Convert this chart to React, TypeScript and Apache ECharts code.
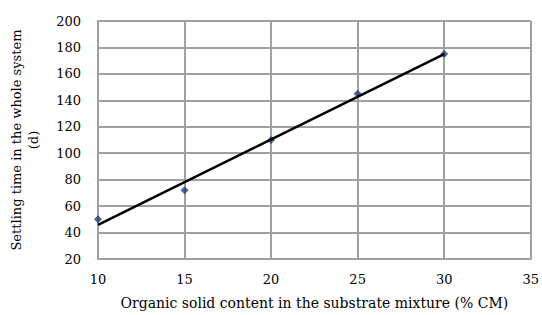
import React, { useEffect, useRef } from "react";
import * as echarts from "echarts";

const xValues = [10, 15, 20, 25, 30];
const settlingDays = [50, 72, 110, 145, 175];
const xTicks = { min: 10, max: 35, interval: 5 };
const yTicks = { min: 20, max: 200, interval: 20 };
const xTitle = "Organic solid content in the substrate mixture (% CM)";
const yTitle = "Settling time in the whole system\n(d)";

function linearFit(xs: number[], ys: number[]) {
  const n = xs.length;
  const mx = xs.reduce((a, b) => a + b, 0) / n;
  const my = ys.reduce((a, b) => a + b, 0) / n;
  let num = 0;
  let den = 0;
  for (let i = 0; i < n; i++) {
    num += (xs[i] - mx) * (ys[i] - my);
    den += (xs[i] - mx) * (xs[i] - mx);
  }
  const slope = num / den;
  const intercept = my - slope * mx;
  return (x: number) => slope * x + intercept;
}

export default function App() {
  const ref = useRef<HTMLDivElement>(null);
  useEffect(() => {
    if (!ref.current) return;
    const chart = echarts.init(ref.current, undefined, { renderer: "svg" });
    const fit = linearFit(xValues, settlingDays);
    const xFirst = xValues[0];
    const xLast = xValues[xValues.length - 1];
    const font = "'DejaVu Serif', 'Liberation Serif', serif";
    const gridColor = "#a0a0a0";
    chart.setOption({
      animation: false,
      backgroundColor: "#ffffff",
      grid: { left: 97, right: 9, top: 21, bottom: 53 },
      xAxis: {
        type: "value",
        min: xTicks.min,
        max: xTicks.max,
        interval: xTicks.interval,
        name: xTitle,
        nameLocation: "middle",
        nameGap: 37,
        nameTextStyle: { fontFamily: font, fontSize: 14, color: "#000" },
        axisLine: { show: true, lineStyle: { color: gridColor, width: 2 } },
        axisTick: { show: false },
        axisLabel: { fontFamily: font, fontSize: 13, color: "#000", margin: 14 },
        splitLine: { show: true, lineStyle: { color: gridColor, width: 2 } },
      },
      yAxis: {
        type: "value",
        min: yTicks.min,
        max: yTicks.max,
        interval: yTicks.interval,
        name: yTitle,
        nameLocation: "middle",
        nameGap: 56,
        nameTextStyle: { fontFamily: font, fontSize: 13, color: "#000", lineHeight: 17 },
        axisLine: { show: true, lineStyle: { color: gridColor, width: 2 } },
        axisTick: { show: false },
        axisLabel: { fontFamily: font, fontSize: 13, color: "#000", margin: 17 },
        splitLine: { show: true, lineStyle: { color: gridColor, width: 2 } },
      },
      series: [
        {
          type: "line",
          data: [
            [xFirst, fit(xFirst)],
            [xLast, fit(xLast)],
          ],
          showSymbol: false,
          symbol: "none",
          lineStyle: { color: "#000", width: 2.5 },
          z: 3,
        },
        {
          type: "scatter",
          data: xValues.map((x, i) => [x, settlingDays[i]]),
          symbol: "diamond",
          symbolSize: 8,
          itemStyle: { color: "#1f3f78" },
          z: 2,
        },
      ],
    });
    return () => chart.dispose();
  }, []);
  return <div ref={ref} style={{ width: 542, height: 315, position: "absolute", left: 0, top: 0 }} />;
}
